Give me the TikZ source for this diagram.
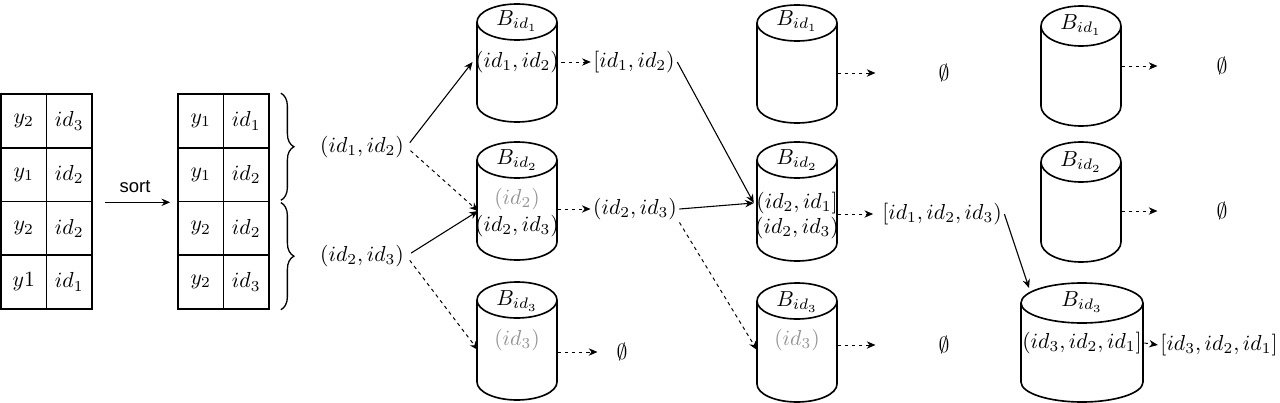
\documentclass[tikz,border=0pt]{standalone}
\usepackage{fontspec}
\newfontfamily\sortfont{Liberation Sans}
\usetikzlibrary{arrows.meta,decorations.pathreplacing,calc}
\newcommand{\cylshape}[6]{% #1 name, #2 cx, #3 top, #4 rx, #5 height, #6 ry (px)
  \draw[cylline] ({#2-#4},{#3+#6}) -- ({#2-#4},{#3+#5-#6})
     arc[start angle=180,end angle=360,x radius={#4*0.46pt},y radius={#6*0.46pt}]
     -- ({#2+#4},{#3+#6})
     arc[start angle=0,end angle=180,x radius={#4*0.46pt},y radius={#6*0.46pt}]
     arc[start angle=180,end angle=360,x radius={#4*0.46pt},y radius={#6*0.46pt}];
  \node[inner sep=0pt, minimum width={2*#4*0.46pt}, minimum height={#5*0.46pt}] (#1) at (#2,{#3+#5/2}) {};
}
\tikzset{
  txt/.style={inner sep=1pt},
  greytxt/.style={inner sep=1pt, text=black!42},
  cell/.style={draw, line width=0.8pt, minimum width=20.93pt, minimum height=24.7pt, inner sep=0pt},
  cylline/.style={line width=0.75pt, fill=white},
  solidarr/.style={-{Stealth[length=4pt,width=3.4pt]}, line width=0.5pt},
  dasharr/.style={solidarr, line width=0.45pt, dash pattern=on 1.6pt off 1.7pt},
  bracestyle/.style={decorate, decoration={brace, amplitude=6pt}, line width=0.6pt},
}
\begin{document}
\begin{tikzpicture}[x=0.46pt, y=-0.46pt]
\useasboundingbox (0,0) rectangle (1280,403);

% ---- table 1
\node[cell] (t1a1) at (23.75,120.9) {$y_2$};
\node[cell] (t1b1) at (69.25,120.9) {$id_3$};
\node[cell] (t1a2) at (23.75,174.6) {$y_1$};
\node[cell] (t1b2) at (69.25,174.6) {$id_2$};
\node[cell] (t1a3) at (23.75,228.3) {$y_2$};
\node[cell] (t1b3) at (69.25,228.3) {$id_2$};
\node[cell] (t1a4) at (23.75,282) {$y1$};
\node[cell] (t1b4) at (69.25,282) {$id_1$};
% ---- table 2
\node[cell] (t2a1) at (200.75,120.9) {$y_1$};
\node[cell] (t2b1) at (246.25,120.9) {$id_1$};
\node[cell] (t2a2) at (200.75,174.6) {$y_1$};
\node[cell] (t2b2) at (246.25,174.6) {$id_2$};
\node[cell] (t2a3) at (200.75,228.3) {$y_2$};
\node[cell] (t2b3) at (246.25,228.3) {$id_2$};
\node[cell] (t2a4) at (200.75,282) {$y_2$};
\node[cell] (t2b4) at (246.25,282) {$id_3$};

\draw[solidarr, shorten <=5.5pt, shorten >=3.2pt] (t1b2.south east) -- node[above=1pt, font=\sortfont\fontsize{8.5}{10}\selectfont] {sort} (t2a2.south west);

% ---- braces
\draw[bracestyle] ($(t2b1.north east)+(11,0)$) -- ($(t2b2.south east)+(11,-2)$);
\draw[bracestyle] ($(t2b3.north east)+(11,2)$) -- ($(t2b4.south east)+(11,0)$);
\node[txt] (p12) at (362,147) {$(id_1,id_2)$};
\node[txt] (p23) at (362,256) {$(id_2,id_3)$};

% ---- column 1 cylinders
\cylshape{c11}{517}{4}{40}{118}{18}
\cylshape{c12}{517}{142}{40}{118}{18}
\cylshape{c13}{517}{282}{40}{118}{18}
\node[txt] (b11) at (517,21) {$B_{id_1}$};
\node[txt] (a11) at (517,62) {$(id_1,id_2)$};
\node[txt] (b12) at (517,160) {$B_{id_2}$};
\node[greytxt] (g12) at (517,199) {$(id_2)$};
\node[txt] (a12) at (517,226) {$(id_2,id_3)$};
\node[txt] (b13) at (517,301) {$B_{id_3}$};
\node[greytxt] (g13) at (517,340) {$(id_3)$};

\node[txt] (o11) at (634,62) {$[id_1,id_2)$};
\node[txt] (o12) at (635,209) {$(id_2,id_3)$};
\node[txt] (e13) at (622,352) {$\emptyset$};

% ---- column 2 cylinders
\cylshape{c21}{797}{5}{40}{118}{18}
\cylshape{c22}{797}{142}{40}{119}{18}
\cylshape{c23}{797}{283}{40}{119}{18}
\node[txt] (b21) at (797,21) {$B_{id_1}$};
\node[txt] (b22) at (797,160) {$B_{id_2}$};
\node[txt] (a22) at (797,203) {$(id_2,id_1]$};
\node[txt] (a22b) at (797,228) {$(id_2,id_3)$};
\node[txt] (b23) at (797,302) {$B_{id_3}$};
\node[greytxt] (g23) at (797,340) {$(id_3)$};

\node[txt] (e21) at (944,73) {$\emptyset$};
\node[txt] (o22) at (942,214) {$[id_1,id_2,id_3)$};
\node[txt] (e23) at (944,345) {$\emptyset$};

% ---- column 3 cylinders
\cylshape{c31}{1081}{6}{40}{120}{20}
\cylshape{c32}{1081}{142}{40}{120}{20}
\cylshape{c33}{1082}{283}{61}{119}{20}
\node[txt] (b31) at (1081,25) {$B_{id_1}$};
\node[txt] (b32) at (1081,162) {$B_{id_2}$};
\node[txt] (b33) at (1082,302) {$B_{id_3}$};
\node[txt] (a33) at (1082,343) {$(id_3,id_2,id_1]$};

\node[txt] (e31) at (1222,66) {$\emptyset$};
\node[txt] (e32) at (1222,211) {$\emptyset$};
\node[txt] (o33) at (1219,345) {$[id_3,id_2,id_1]$};

% ---- junction coordinates
\coordinate (m12) at (478,211);
\coordinate (m13) at (478,350);
\coordinate (m23) at (757,350);
\coordinate (m33) at (1029,288);

% ---- connectors
\draw[solidarr, shorten <=2.5pt] (p12.east) -- (a11.west);
\draw[dasharr, shorten <=2.5pt] (p12.east) -- (m12);
\draw[solidarr, shorten <=2.5pt] (p23.east) -- (m12);
\draw[dasharr, shorten <=2.5pt] (p23.east) -- (m13);

\draw[dasharr] (a11.east) -- (o11.west);
\draw[dasharr] (c12.east |- o12) -- (o12.west);
\draw[dasharr] (c13.east |- e13) -- ++(40,0);

\draw[solidarr] (o11.east) -- (a22.west);
\draw[solidarr] (o12.east) -- (a22.west);
\draw[dasharr] (o12.south east) -- (m23);

\draw[dasharr] (c21.east |- e21) -- ++(38,0);
\draw[dasharr, shorten >=3pt] (c22.east |- o22) -- (o22.west);
\draw[dasharr] (c23.east |- e23) -- ++(38,0);

\draw[solidarr] (o22.east) -- (m33);

\draw[dasharr] (c31.east |- e31) -- ++(36,0);
\draw[dasharr] (c32.east |- e32) -- ++(36,0);
\draw[dasharr] (a33.east) -- (o33.west);
\end{tikzpicture}
\end{document}
